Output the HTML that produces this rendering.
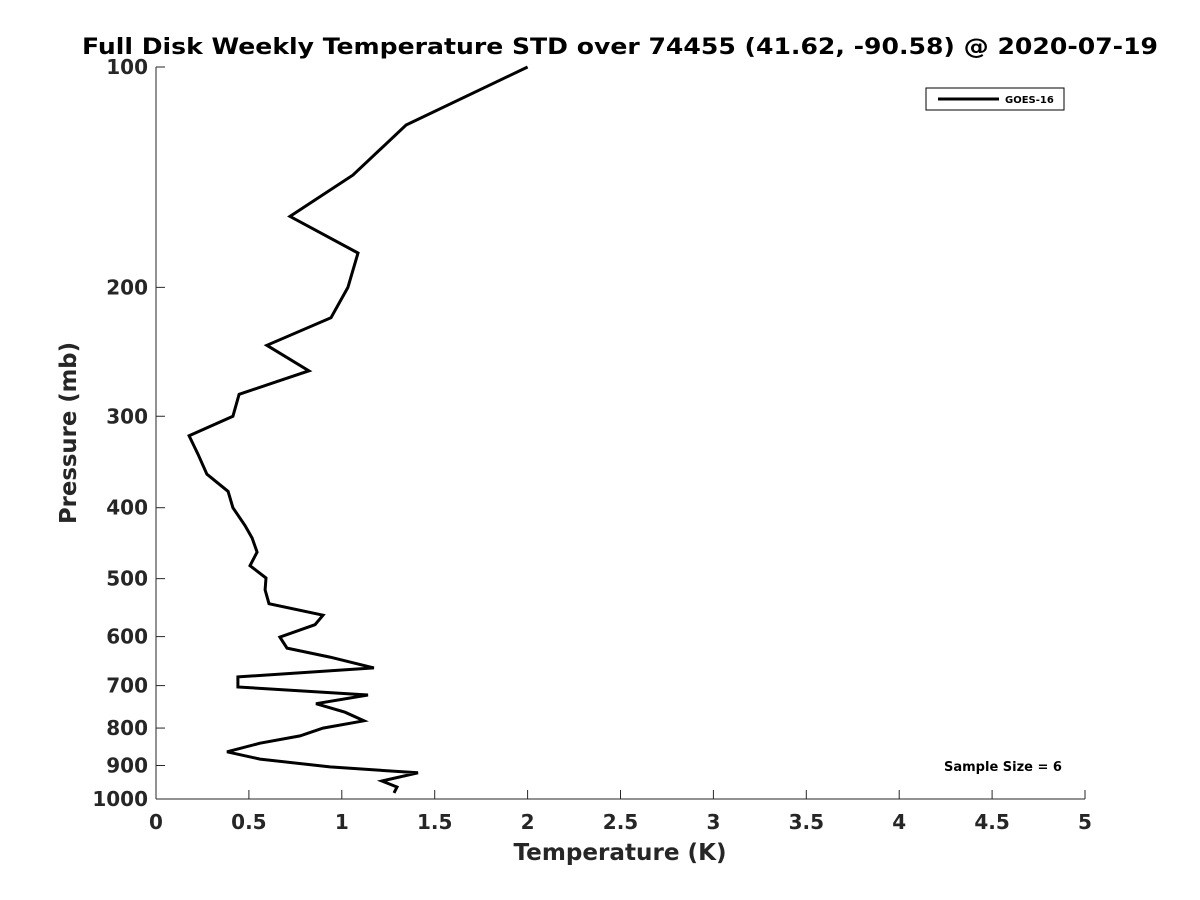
<!DOCTYPE html>
<html><head><meta charset="utf-8"><style>body{margin:0;background:#fff}svg{display:block}text{font-family:"DejaVu Sans","Liberation Sans",sans-serif;font-weight:bold;fill:#262626}</style></head>
<body>
<svg id="chart" width="1200" height="900" viewBox="0 0 1200 900" xmlns="http://www.w3.org/2000/svg">
<rect width="1200" height="900" fill="#fff"/>
<text x="620" y="54" text-anchor="middle" font-size="22" textLength="1076" lengthAdjust="spacingAndGlyphs" style="fill:#000">Full Disk Weekly Temperature STD over 74455 (41.62, -90.58) @ 2020-07-19</text>
<g id="axes"></g>
<polyline id="series" fill="none" stroke="#000" stroke-width="3" stroke-linejoin="miter"/>
<g>
<rect x="926" y="88" width="138" height="22" fill="#fff" stroke="#000" stroke-width="1"/>
<line x1="938" y1="99" x2="999" y2="99" stroke="#000" stroke-width="3"/>
<text x="1005" y="103" font-size="10" style="fill:#000">GOES-16</text>
</g>
<text x="1003" y="771" text-anchor="middle" font-size="13" style="fill:#000">Sample Size = 6</text>
<text x="620" y="860" text-anchor="middle" font-size="23" textLength="213" lengthAdjust="spacingAndGlyphs">Temperature (K)</text>
<text transform="translate(76,433) rotate(-90)" text-anchor="middle" font-size="23" textLength="182" lengthAdjust="spacingAndGlyphs">Pressure (mb)</text>
</svg>
<script>
const temps=[2.00,1.346,1.060,0.721,1.087,1.033,0.942,0.597,0.823,0.447,0.414,0.178,0.226,0.274,0.388,0.414,0.479,0.517,0.544,0.506,0.592,0.587,0.608,0.899,0.856,0.667,0.705,0.936,1.173,0.441,0.441,1.141,0.861,1.017,1.119,0.899,0.775,0.560,0.382,0.560,0.936,1.410,1.216,1.297,1.281];
const pressures=[100,120,140.5,160,179.5,200,220,240,260,280,300,319,338,360,380,400,423,440,460,480,499,518,541,561,578,601,622,640,662,681,703,721,741,761,782,800,820,839,862,882,904,921,945,963,981];
const xTicks=[0,0.5,1,1.5,2,2.5,3,3.5,4,4.5,5];
const xTickLabels=["0","0.5","1","1.5","2","2.5","3","3.5","4","4.5","5"];
const yTicks=[100,200,300,400,500,600,700,800,900,1000];
const yTickLabels=["100","200","300","400","500","600","700","800","900","1000"];
const L=156,R=1085,T=67,B=799;
const xs=v=>L+(v-0)/5*(R-L);
const ys=p=>T+Math.log10(p/100)*(B-T);
const NS="http://www.w3.org/2000/svg";
const ax=document.getElementById('axes');
function mk(tag,attrs){const e=document.createElementNS(NS,tag);for(const k in attrs)e.setAttribute(k,attrs[k]);return e;}
let a=mk('line',{x1:L,y1:T,x2:L,y2:B,stroke:'#262626','stroke-width':1});


ax.appendChild(a);
a=mk('line',{x1:L,y1:B,x2:R,y2:B,stroke:'#262626','stroke-width':1});


ax.appendChild(a);
xTicks.forEach((v,i)=>{const x=xs(v);
 const t=mk('line',{x1:x,y1:B,x2:x,y2:B-9,stroke:'#262626'});
 
 
 ax.appendChild(t);
 const l=mk('text',{x:x,y:B+30,'text-anchor':'middle','font-size':20});
 
 
 l.textContent=xTickLabels[i];ax.appendChild(l);});
yTicks.forEach((v,i)=>{const y=ys(v);
 const t=mk('line',{x1:L,y1:y,x2:L+9,y2:y,stroke:'#262626'});
 
 
 ax.appendChild(t);
 const l=mk('text',{x:L-8,y:y+7,'text-anchor':'end','font-size':20});
 
 
 l.textContent=yTickLabels[i];ax.appendChild(l);});
document.getElementById('series').setAttribute('points',temps.map((t,i)=>xs(t).toFixed(1)+','+ys(pressures[i]).toFixed(1)).join(' '));
</script>
</body></html>
